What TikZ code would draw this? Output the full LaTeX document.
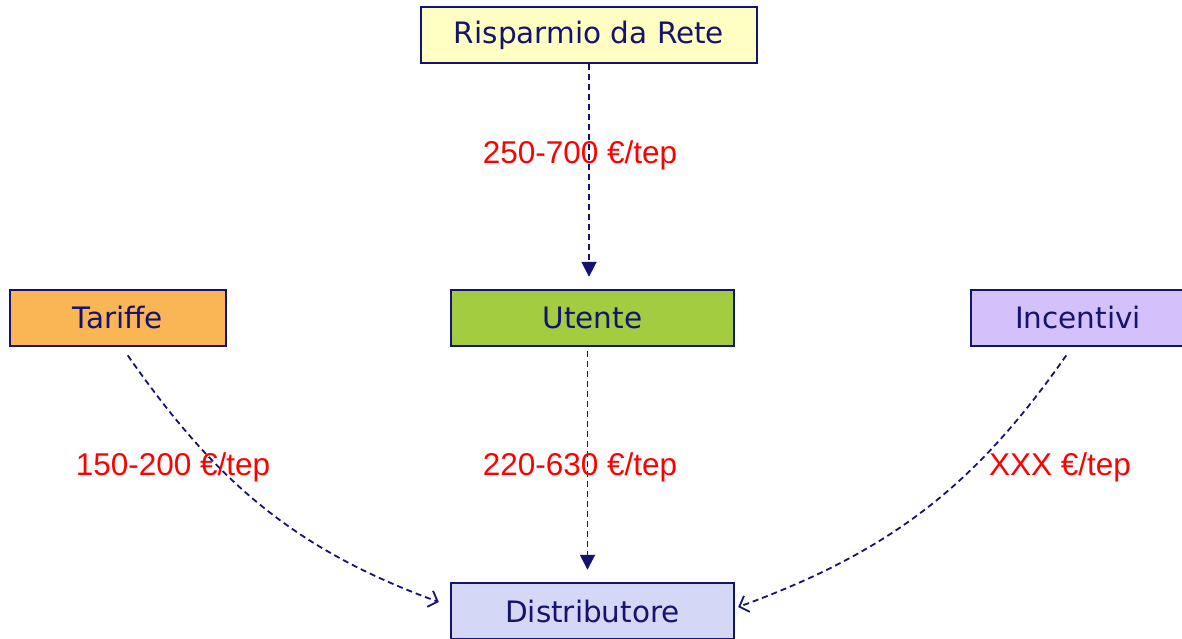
\documentclass[tikz,border=0pt]{standalone}
\usepackage{fontspec}
\setmainfont{DejaVu Sans}
\newfontfamily\labelfont{Liberation Sans}
\usetikzlibrary{arrows.meta}
\definecolor{navy}{RGB}{20,20,110}
\definecolor{boxyellow}{RGB}{255,255,196}
\definecolor{boxorange}{RGB}{250,182,84}
\definecolor{boxgreen}{RGB}{164,204,64}
\definecolor{boxlilac}{RGB}{212,192,250}
\definecolor{boxblue}{RGB}{212,216,246}
\begin{document}
\begin{tikzpicture}[x=1pt,y=1pt,
	entity/.style={draw=navy, line width=2.4pt, minimum height=56pt, inner sep=0pt, text=navy, font=\fontsize{29.5}{31}\selectfont},
	flow/.style={draw=navy, line width=1.8pt, dash pattern=on 6pt off 4pt},
	amount/.style={text=red, font=\labelfont\fontsize{31.5}{33}\selectfont}]
	\useasboundingbox (0,0) rectangle (1182,638);
	\node[entity, fill=boxyellow, minimum width=336pt] (rete) at (589,603) {Risparmio da Rete};
	\node[entity, fill=boxorange, minimum width=216pt] (tariffe) at (118,320) {Tariffe};
	\node[entity, fill=boxgreen, minimum width=283pt] (utente) at (592.5,320) {Utente};
	\node[entity, fill=boxlilac, minimum width=214pt] (incentivi) at (1078,320) {Incentivi};
	\node[entity, fill=boxblue, minimum width=283pt] (distrib) at (592.5,27) {Distributore};
	\draw[flow, -{Triangle[length=15pt,width=15pt]}, shorten >=12pt] (rete.south) -- (rete.south |- utente.north);
	\draw[flow, -{Triangle[length=15pt,width=15pt]}, shorten <=4pt, shorten >=12pt] ([xshift=-5pt]utente.south) -- ([xshift=-5pt]distrib.north);
	\draw[flow, -{Straight Barb[length=8pt,width=17pt,line width=1.8pt]}, shorten <=10pt] ([xshift=4pt]tariffe.south) to[out=-55,in=160] ([xshift=-11pt,yshift=9pt]distrib.west);
	\draw[flow, -{Straight Barb[length=8pt,width=17pt,line width=1.8pt]}, shorten <=10pt] ([xshift=-6pt]incentivi.south) to[out=-125,in=20] ([xshift=3pt,yshift=4pt]distrib.east);
	\node[amount] (l1) at (580,483) {250-700 €/tep};
	\node[amount] (l2) at (173,171) {150-200 €/tep};
	\node[amount] (l3) at (580,171) {220-630 €/tep};
	\node[amount] (l4) at (1060,171) {XXX €/tep};
\end{tikzpicture}
\end{document}
